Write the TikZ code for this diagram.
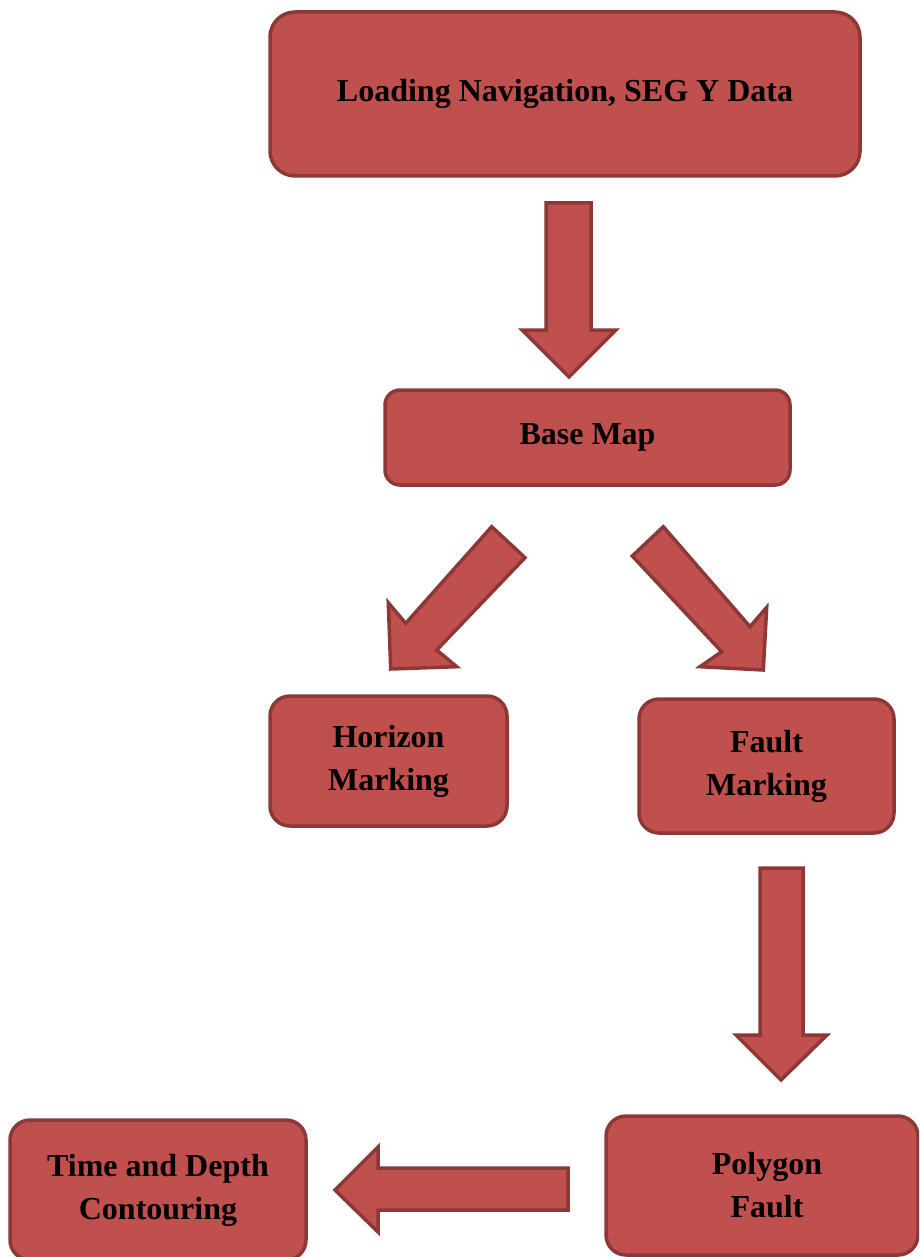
\documentclass[tikz,border=0pt]{standalone}
\usepackage{fontspec}
\setmainfont{Liberation Serif}
\definecolor{boxfill}{HTML}{C0504D}
\definecolor{boxline}{HTML}{8C3836}
\tikzset{
  stepbox/.style={draw=boxline, fill=boxfill, line width=3.5pt, rounded corners=20pt,
    align=center, font=\fontsize{32}{43}\selectfont\bfseries, inner sep=0pt},
  blockarrow/.style={draw=boxline, fill=boxfill, line width=3.5pt, line join=miter}
}
\begin{document}
\begin{tikzpicture}[x=1pt,y=-1pt]
\useasboundingbox (0,0) rectangle (919,1257);
\clip (0,0) rectangle (919,1257);
% boxes
\node[stepbox, rounded corners=25pt, minimum width=590pt, minimum height=164pt] (load) at (565,94) {Loading Navigation, SEG Y Data};
\node[stepbox, rounded corners=15pt, minimum width=405pt, minimum height=95pt] (base) at (587.5,437.5) {Base Map};
\node[stepbox, minimum width=237pt, minimum height=130pt] (hor) at (388.5,761) {Horizon\\Marking};
\node[stepbox, minimum width=255pt, minimum height=134pt] (fault) at (766.5,766) {Fault\\Marking};
\node[stepbox, minimum width=312pt, minimum height=139pt] (poly) at (762,1185.5) {\hspace*{10pt}Polygon\\\hspace*{10pt}Fault};
\node[stepbox, minimum width=296pt, minimum height=140pt] (time) at (158,1190) {Time and Depth\\Contouring};
% block arrows
\draw[blockarrow] (546,203) -- (591,203) -- (591,330) -- (616,330) -- (569,377) -- (522,330) -- (546,330) -- cycle;
\draw[blockarrow] (491.7,526.7) -- (525,557.7) -- (436.7,650) -- (456.7,666.7) -- (390.7,669) -- (388.3,602.7) -- (405.7,623.3) -- cycle;
\draw[blockarrow] (663.3,526.7) -- (632.3,556) -- (721.7,651.7) -- (700,666.7) -- (763.3,670) -- (766.7,607.3) -- (750,626.7) -- cycle;
\draw[blockarrow] (760,868) -- (803,868) -- (803,1035) -- (827,1035) -- (781,1080) -- (736,1035) -- (760,1035) -- cycle;
\draw[blockarrow] (568,1168) -- (568,1210) -- (378,1210) -- (378,1232) -- (335,1190) -- (378,1147) -- (378,1168) -- cycle;
\end{tikzpicture}
\end{document}
